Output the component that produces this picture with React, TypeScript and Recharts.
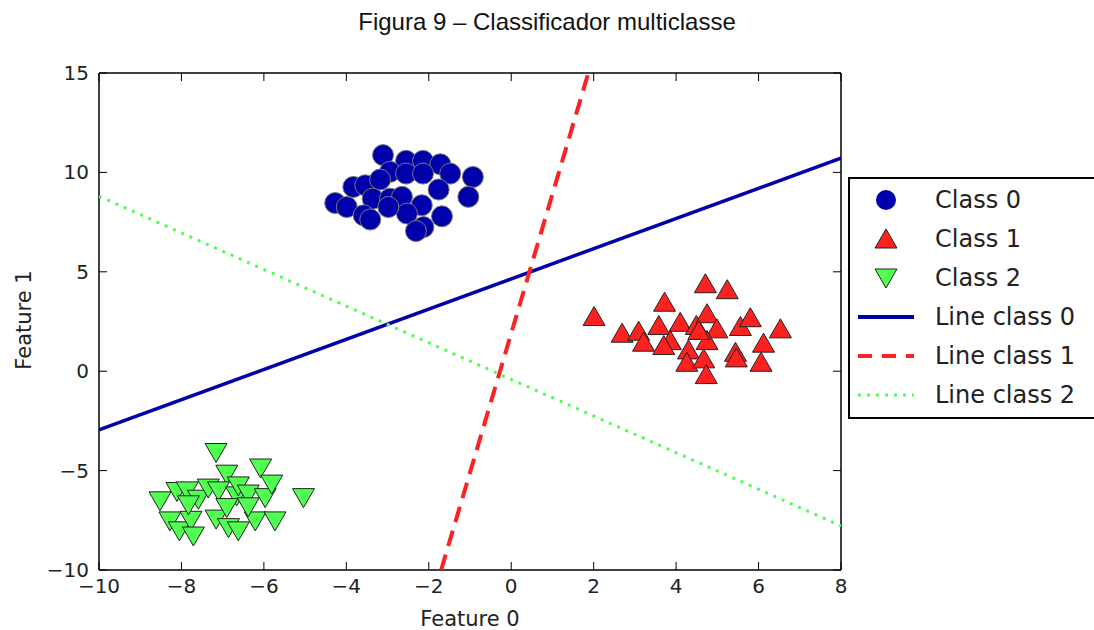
import React from 'react';
import { ScatterChart, Scatter, XAxis, YAxis } from 'recharts';

// class 0 (blue circles)
const class0 = [
  { x: -3.11, y: 10.87 }, { x: -2.55, y: 10.58 }, { x: -2.14, y: 10.58 }, { x: -1.72, y: 10.41 },
  { x: -1.48, y: 9.94 }, { x: -0.93, y: 9.77 }, { x: -1.04, y: 8.77 }, { x: -2.94, y: 10.03 },
  { x: -2.55, y: 9.94 }, { x: -2.14, y: 9.94 }, { x: -3.83, y: 9.27 }, { x: -3.54, y: 9.35 },
  { x: -3.18, y: 9.64 }, { x: -1.76, y: 9.14 }, { x: -4.27, y: 8.46 }, { x: -3.99, y: 8.26 },
  { x: -3.36, y: 8.68 }, { x: -2.94, y: 8.68 }, { x: -2.65, y: 8.77 }, { x: -2.17, y: 8.35 },
  { x: -1.68, y: 7.79 }, { x: -3.58, y: 7.84 }, { x: -3.42, y: 7.63 }, { x: -2.53, y: 7.93 },
  { x: -2.13, y: 7.25 }, { x: -2.31, y: 7.05 }, { x: -2.98, y: 8.26 },
];

// class 1 (red triangles)
const class1 = [
  { x: 2.01, y: 2.75 }, { x: 4.71, y: 4.4 }, { x: 5.24, y: 4.1 }, { x: 3.72, y: 3.47 },
  { x: 2.69, y: 1.91 }, { x: 3.09, y: 2.01 }, { x: 3.58, y: 2.3 }, { x: 4.1, y: 2.46 },
  { x: 4.49, y: 2.3 }, { x: 4.75, y: 2.89 }, { x: 4.99, y: 2.13 }, { x: 5.56, y: 2.25 },
  { x: 5.8, y: 2.69 }, { x: 6.53, y: 2.13 }, { x: 3.21, y: 1.46 }, { x: 3.86, y: 1.54 },
  { x: 3.7, y: 1.29 }, { x: 4.75, y: 1.54 }, { x: 4.3, y: 1.07 }, { x: 4.26, y: 0.45 },
  { x: 4.67, y: 0.62 }, { x: 5.44, y: 0.95 }, { x: 5.46, y: 0.67 }, { x: 6.12, y: 1.41 },
  { x: 6.06, y: 0.45 }, { x: 4.73, y: -0.17 }, { x: 4.55, y: 2.05 },
];

// class 2 (green down-triangles)
const class2 = [
  { x: -7.16, y: -4.09 }, { x: -6.08, y: -4.87 }, { x: -5.04, y: -6.36 }, { x: -6.9, y: -5.18 },
  { x: -8.52, y: -6.52 }, { x: -8.11, y: -6.05 }, { x: -7.86, y: -6.02 }, { x: -7.59, y: -6.44 },
  { x: -7.35, y: -5.88 }, { x: -7.1, y: -6.02 }, { x: -6.66, y: -6.27 }, { x: -6.62, y: -5.77 },
  { x: -6.38, y: -6.18 }, { x: -5.97, y: -6.36 }, { x: -5.81, y: -5.68 }, { x: -8.28, y: -7.53 },
  { x: -8.05, y: -8.03 }, { x: -7.77, y: -7.5 }, { x: -7.71, y: -8.29 }, { x: -7.16, y: -7.44 },
  { x: -6.86, y: -7.87 }, { x: -6.62, y: -8.03 }, { x: -6.21, y: -7.53 }, { x: -5.73, y: -7.53 },
  { x: -7.83, y: -6.72 }, { x: -6.38, y: -6.82 }, { x: -6.9, y: -6.86 },
];

// decision lines
const line0 = [{ x: -10, y: -2.95 }, { x: 8, y: 10.72 }];
const line1 = [{ x: -1.7, y: -10 }, { x: 1.87, y: 15 }];
const line2 = [{ x: -10, y: 8.8 }, { x: 8, y: -7.78 }];

const xTicks = [-10, -8, -6, -4, -2, 0, 2, 4, 6, 8];
const yTicks = [-10, -5, 0, 5, 10, 15];

const BLUE = '#0000aa';
const RED = '#ff2020';
const GREEN = '#50ff50';
const FONT = '"DejaVu Sans", sans-serif';
const TXT = '#222';

const fmt = (v: number) => String(v).replace('-', '\u2212');

const Circle = (p: any) => (
  <circle cx={p.cx} cy={p.cy} r={10.5} fill={BLUE} stroke="#777" strokeWidth={1} />
);
const Up = (p: any) => (
  <path d={`M${p.cx},${p.cy - 10} L${p.cx + 11},${p.cy + 9} L${p.cx - 11},${p.cy + 9} Z`}
    fill={RED} stroke="#222" strokeWidth={1} />
);
const Down = (p: any) => (
  <path d={`M${p.cx},${p.cy + 10} L${p.cx + 11},${p.cy - 9} L${p.cx - 11},${p.cy - 9} Z`}
    fill={GREEN} stroke="#222" strokeWidth={1} />
);
const NoDot = () => <g />;

const BottomTick = (p: any) => (
  <g>
    <line x1={p.x} y1={p.y} x2={p.x} y2={p.y - 8} stroke="#000" />
    <text x={p.x} y={p.y + 23} textAnchor="middle" fontSize={20} fontFamily={FONT} fill={TXT}>
      {fmt(p.payload.value)}
    </text>
  </g>
);
const LeftTick = (p: any) => (
  <g>
    <line x1={p.x} y1={p.y} x2={p.x + 8} y2={p.y} stroke="#000" />
    <text x={p.x - 10} y={p.y + 7} textAnchor="end" fontSize={20} fontFamily={FONT} fill={TXT}>
      {fmt(p.payload.value)}
    </text>
  </g>
);
const TopTick = (p: any) => <line x1={p.x} y1={p.y} x2={p.x} y2={p.y + 8} stroke="#000" />;
const RightTick = (p: any) => <line x1={p.x} y1={p.y} x2={p.x - 8} y2={p.y} stroke="#000" />;

const legendRows = [
  { label: 'Class 0', kind: 'circle' },
  { label: 'Class 1', kind: 'up' },
  { label: 'Class 2', kind: 'down' },
  { label: 'Line class 0', kind: 'solid' },
  { label: 'Line class 1', kind: 'dashed' },
  { label: 'Line class 2', kind: 'dotted' },
];

const LegendIcon = ({ kind }: { kind: string }) => (
  <svg width={60} height={30}>
    {kind === 'circle' && <circle cx={30} cy={15} r={10} fill={BLUE} />}
    {kind === 'up' && <path d="M30,5 L41,24 L19,24 Z" fill={RED} stroke="#222" />}
    {kind === 'down' && <path d="M30,25 L41,6 L19,6 Z" fill={GREEN} stroke="#222" />}
    {kind === 'solid' && <line x1={2} y1={15} x2={58} y2={15} stroke={BLUE} strokeWidth={4} />}
    {kind === 'dashed' && <line x1={2} y1={15} x2={58} y2={15} stroke={RED} strokeWidth={4} strokeDasharray="14 10" />}
    {kind === 'dotted' && <line x1={2} y1={15} x2={58} y2={15} stroke={GREEN} strokeWidth={3} strokeDasharray="3 6" />}
  </svg>
);

const axisLine = { stroke: '#000', strokeWidth: 1.5 };

export default function App() {
  return (
    <div style={{ position: 'absolute', left: 0, top: 0, width: 1094, height: 630, overflow: 'hidden', background: '#fff' }}>
      <div style={{ position: 'absolute', left: 0, top: 8, width: 1094, textAlign: 'center', fontFamily: '"Liberation Sans", Arial, sans-serif', fontSize: 24, color: '#111' }}>
        Figura 9 – Classificador multiclasse
      </div>
      <ScatterChart width={1094} height={630} margin={{ top: 72, right: 252, bottom: 20, left: 39 }}>
        <XAxis type="number" dataKey="x" domain={[-10, 8]} ticks={xTicks} height={40}
          tickSize={0} tickMargin={0} tick={<BottomTick />} axisLine={axisLine} allowDataOverflow />
        <YAxis type="number" dataKey="y" domain={[-10, 15]} ticks={yTicks} width={60}
          tickSize={0} tickMargin={0} tick={<LeftTick />} axisLine={axisLine} allowDataOverflow />
        <XAxis xAxisId="top" orientation="top" type="number" dataKey="x" domain={[-10, 8]} ticks={xTicks} height={1}
          tickSize={0} tickMargin={0} tick={<TopTick />} axisLine={axisLine} allowDataOverflow />
        <YAxis yAxisId="right" orientation="right" type="number" dataKey="y" domain={[-10, 15]} ticks={yTicks} width={1}
          tickSize={0} tickMargin={0} tick={<RightTick />} axisLine={axisLine} allowDataOverflow />
        <Scatter data={class0} shape={<Circle />} isAnimationActive={false} />
        <Scatter data={class1} shape={<Up />} isAnimationActive={false} />
        <Scatter data={class2} shape={<Down />} isAnimationActive={false} />
        <Scatter data={line0} line={{ stroke: BLUE, strokeWidth: 3.5 }} shape={<NoDot />} isAnimationActive={false} />
        <Scatter data={line1} line={{ stroke: RED, strokeWidth: 4, strokeDasharray: '16 9' }} shape={<NoDot />} isAnimationActive={false} />
        <Scatter data={line2} line={{ stroke: GREEN, strokeWidth: 3, strokeDasharray: '3 6' }} shape={<NoDot />} isAnimationActive={false} />
      </ScatterChart>
      <div style={{ position: 'absolute', left: 0, top: 607, width: 940, textAlign: 'center', fontFamily: FONT, fontSize: 21, color: TXT }}>
        Feature 0
      </div>
      <div style={{ position: 'absolute', left: 24, top: 320, transform: 'translate(-50%, -50%) rotate(-90deg)', fontFamily: FONT, fontSize: 21, color: TXT, whiteSpace: 'nowrap' }}>
        Feature 1
      </div>
      <div style={{ position: 'absolute', left: 848, top: 177, width: 270, height: 242, border: '2px solid #000', boxSizing: 'border-box', background: '#fff', paddingTop: 1 }}>
        {legendRows.map((r) => (
          <div key={r.label} style={{ display: 'flex', alignItems: 'center', height: 39 }}>
            <div style={{ marginLeft: 6, width: 60, height: 30 }}><LegendIcon kind={r.kind} /></div>
            <span style={{ marginLeft: 19, fontFamily: FONT, fontSize: 24, color: TXT }}>{r.label}</span>
          </div>
        ))}
      </div>
    </div>
  );
}
